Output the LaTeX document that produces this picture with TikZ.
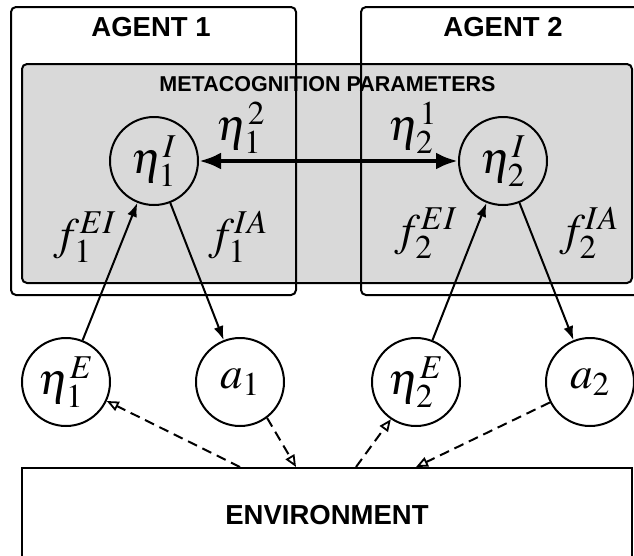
\documentclass[tikz,border=0pt]{standalone}
\usepackage{mathptmx}
\usepackage[no-math]{fontspec}
\newfontfamily\headfont{Liberation Sans}
\usetikzlibrary{arrows.meta,calc}
\definecolor{metagray}{HTML}{D9D9D9}
\tikzset{
  agentbox/.style={draw, line width=2pt, rounded corners=5pt, inner sep=0pt},
  metabox/.style={draw, fill=metagray, line width=2pt, rounded corners=5pt, inner sep=0pt},
  envbox/.style={draw, line width=2pt, inner sep=0pt, font=\headfont\bfseries\fontsize{27.5}{30}\selectfont},
  title/.style={font=\headfont\bfseries\fontsize{27.5}{30}\selectfont, inner sep=0pt},
  subtitle/.style={font=\headfont\bfseries\fontsize{21.5}{24}\selectfont, inner sep=0pt},
  var/.style={draw, circle, line width=2pt, minimum size=88pt, inner sep=0pt, font=\fontsize{45}{48}\selectfont},
  mlabel/.style={inner sep=0pt, font=\fontsize{45}{48}\selectfont},
  thinarrow/.style={line width=2pt, -{Latex[length=14pt,width=10pt]}},
  thickarrow/.style={line width=4.5pt, {Latex[length=22pt,width=17pt]}-{Latex[length=22pt,width=17pt]}},
  dasharrow/.style={line width=2pt, dash pattern=on 10pt off 6pt, -{Triangle[open,length=12pt,width=10pt,line width=1.8pt]}}
}
\begin{document}
\begin{tikzpicture}[x=1pt,y=-1pt]
  \useasboundingbox (0,0) rectangle (634,555);
  \clip (0,0) rectangle (634,555);

  % shared metacognition parameter panel
  \node[metabox, minimum width=610pt, minimum height=219pt] (meta) at (327,173.5) {};
  \node[subtitle] (metatitle) at (327.5,84) {METACOGNITION PARAMETERS};

  % agent frames
  \node[agentbox, minimum width=285pt, minimum height=288pt] (agent1) at (153.5,151) {};
  \node[agentbox, minimum width=284pt, minimum height=288pt] (agent2) at (503,151) {};
  \node[title] (agent1title) at (151,27) {AGENT 1};
  \node[title] (agent2title) at (503,27) {AGENT 2};

  % environment
  \node[envbox, minimum width=610pt, minimum height=94pt] (env) at (327,515) {ENVIRONMENT};

  % internal parameters
  \node[var] (eta1I) at (154,161) {$\eta_1^I$};
  \node[var] (eta2I) at (503,161) {$\eta_2^I$};

  % external parameters and actions
  \node[var] (eta1E) at (66,382) {$\eta_1^E$};
  \node[var] (a1)    at (240,382) {$a_1$};
  \node[var] (eta2E) at (416,382) {$\eta_2^E$};
  \node[var] (a2)    at (590,382) {$a_2$};

  % labels
  \node[mlabel] (l12)  at (241,128) {$\eta_1^2$};
  \node[mlabel] (l21)  at (413,128) {$\eta_2^1$};
  \node[mlabel] (f1ei) at (85,237)  {$f_1^{EI}$};
  \node[mlabel] (f1ia) at (238,237) {$f_1^{IA}$};
  \node[mlabel] (f2ei) at (426,233) {$f_2^{EI}$};
  \node[mlabel] (f2ia) at (589,233) {$f_2^{IA}$};

  % connectors
  \draw[thickarrow] (eta1I) -- (eta2I);
  \draw[thinarrow] (eta1E) -- (eta1I);
  \draw[thinarrow] (eta1I) -- (a1);
  \draw[thinarrow] (eta2E) -- (eta2I);
  \draw[thinarrow] (eta2I) -- (a2);

  % environment couplings
  \coordinate (envA) at (env.north -| a1);
  \coordinate (envB) at ($(env.north west)+(275,0)$);
  \coordinate (envC) at ($(env.north west)+(335,0)$);
  \coordinate (envD) at (env.north -| eta2E);
  \draw[dasharrow] (envA) -- (eta1E.-25);
  \draw[dasharrow] (a1.-53) -- (envB);
  \draw[dasharrow] (envC) -- (eta2E.-124);
  \draw[dasharrow] (a2.-153) -- (envD);
\end{tikzpicture}
\end{document}
